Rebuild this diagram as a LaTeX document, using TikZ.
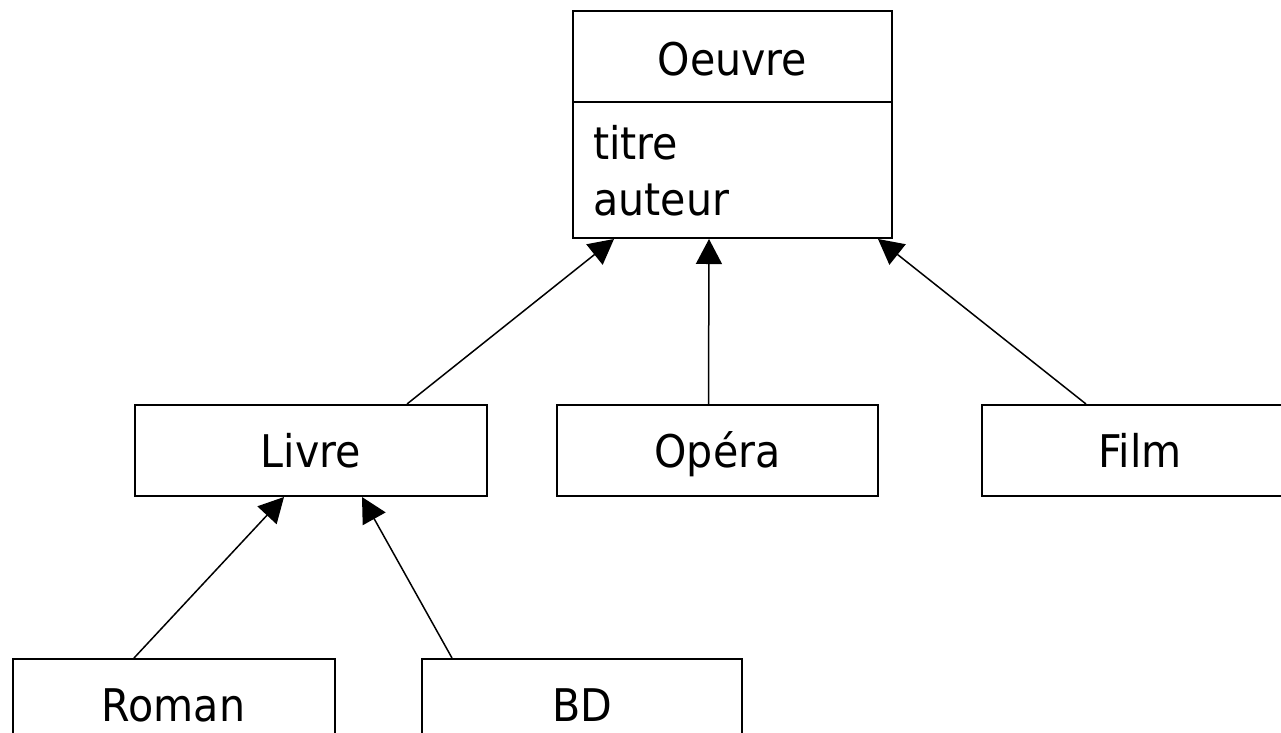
\documentclass[tikz,border=0pt]{standalone}
\usepackage{fontspec}
\setmainfont[FakeStretch=0.915]{DejaVu Sans}
\usetikzlibrary{arrows.meta,calc}
\begin{document}
\begin{tikzpicture}[x=1pt,y=-1pt,
  box/.style={draw,line width=2pt,minimum width=#1,minimum height=91pt,inner sep=0pt,text height=33pt,text depth=0pt,font=\fontsize{45}{56}\selectfont},
  box/.default=352pt,
  lbl/.style={inner sep=0pt,font=\fontsize{45}{56}\selectfont},
  inh/.style={line width=1.5pt,-{Triangle[length=25pt,width=26pt]}}]
\useasboundingbox (0,0) rectangle (1281,732);
\clip (0,0) rectangle (1281,732);
% Oeuvre class
\node[draw,line width=2pt,minimum width=319pt,minimum height=227pt,inner sep=0pt] (oeuvre) at (732.5,124.5) {};
\draw[line width=2pt] (oeuvre.west |- 0,101.7) coordinate (dl) -- (oeuvre.east |- 0,101.7) coordinate (dr);
\node[lbl,text height=33pt,text depth=0pt] (oname) at (732.5,59) {Oeuvre};
\node[lbl,anchor=base west] (titre) at (593,159) {titre};
\node[lbl,anchor=base west] (auteur) at (593,215) {auteur};
% subclasses
\node[box=352pt] (livre) at (311,450.5) {Livre};
\node[box=321pt] (opera) at (717.5,450.5) {Opéra};
\node[box=316pt] (film) at (1140,450.5) {Film};
\node[box=322pt] (roman) at (173.5,704.5) {Roman};
\node[box=320pt] (bd) at (582,704.5) {BD};
% inheritance arrows
\draw[inh] ($(livre.north west)+(273,0)$) -- ($(oeuvre.south west)+(42,0)$);
\draw[inh] ($(opera.north west)+(152.5,0)$) -- ($(oeuvre.south west)+(137,0)$);
\draw[inh] ($(film.north west)+(105,0)$) -- ($(oeuvre.south west)+(306,0)$);
\draw[inh] ($(roman.north west)+(122.5,0)$) -- ($(livre.south west)+(150,0)$);
\draw[inh] ($(bd.north west)+(31,0)$) -- ($(livre.south west)+(228,0)$);
\end{tikzpicture}
\end{document}
